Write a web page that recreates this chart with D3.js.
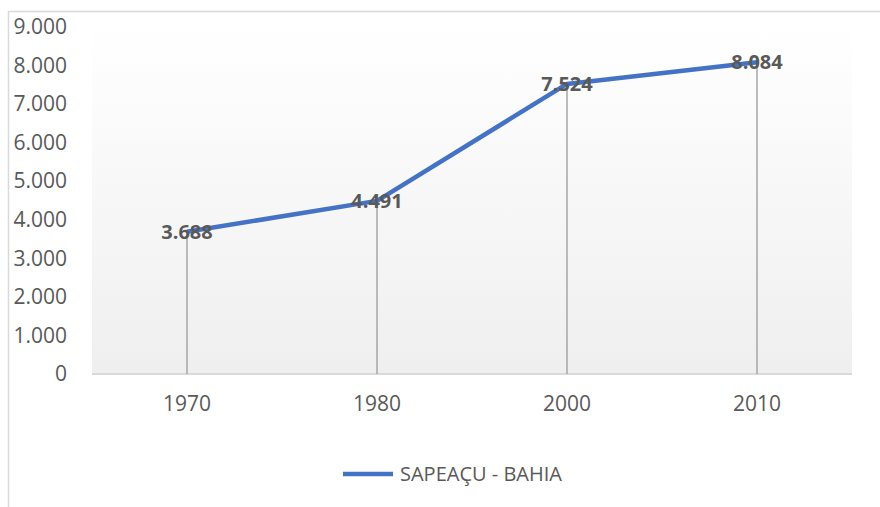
<!DOCTYPE html>
<html>
<head>
<meta charset="utf-8">
<script src="https://cdn.jsdelivr.net/npm/d3@7"></script>
<style>
  body { margin: 0; background: #fff; }
  text { font-family: "Open Sans", "Noto Sans", sans-serif; }
</style>
</head>
<body>
<svg width="880" height="507"></svg>
<script>
var years = ["1970", "1980", "2000", "2010"];
var population = [3688, 4491, 7524, 8084];
var yTicks = [0, 1000, 2000, 3000, 4000, 5000, 6000, 7000, 8000, 9000];
var seriesName = "SAPEAÇU - BAHIA";

var svg = d3.select("svg");
var margin = { top: 27, right: 28, bottom: 133, left: 92 };
var width = 880 - margin.left - margin.right;
var height = 507 - margin.top - margin.bottom;

var fmt = function(v) { return v === 0 ? "0" : d3.format(",")(v).replace(/,/g, "."); };

// outer chart frame (only top and left edges show in the crop)
svg.append("path")
  .attr("d", "M8.5,507 V11.5 H880")
  .attr("fill", "none")
  .attr("stroke", "#d9d9d9")
  .attr("stroke-width", 1.5);

var defs = svg.append("defs");
var grad = defs.append("linearGradient")
  .attr("id", "plotbg")
  .attr("x1", 0).attr("y1", 0).attr("x2", 0).attr("y2", 1);
grad.append("stop").attr("offset", "0%").attr("stop-color", "#ffffff");
grad.append("stop").attr("offset", "100%").attr("stop-color", "#efefef");

var g = svg.append("g")
  .attr("transform", "translate(" + margin.left + "," + margin.top + ")");

var x = d3.scaleBand().domain(years).range([0, width]);
var y = d3.scaleLinear().domain([0, 9000]).range([height, 0]);

g.append("rect")
  .attr("width", width)
  .attr("height", height)
  .attr("fill", "url(#plotbg)");

// y axis labels
var yAxis = d3.axisLeft(y).tickValues(yTicks).tickFormat(fmt).tickSize(0).tickPadding(25);
g.append("g")
    .attr("class", "y-axis")
    .call(yAxis)
  .call(function(s) { s.select(".domain").remove(); })
  .selectAll("text")
    .attr("fill", "#595959")
    .style("font-size", "21px");

// baseline
g.append("line")
  .attr("x1", 0).attr("x2", width)
  .attr("y1", y(0)).attr("y2", y(0))
  .attr("stroke", "#d9d9d9")
  .attr("stroke-width", 2);

// x axis labels
var xAxis = d3.axisBottom(x).tickSize(0).tickPadding(22);
g.append("g")
    .attr("class", "x-axis")
    .attr("transform", "translate(0," + height + ")")
    .call(xAxis)
  .call(function(s) { s.select(".domain").remove(); })
  .selectAll("text")
    .attr("fill", "#595959")
    .style("font-size", "21px");

var cx = function(d, i) { return x(years[i]) + x.bandwidth() / 2; };

// drop lines
g.selectAll(".drop")
  .data(population)
  .enter().append("line")
  .attr("class", "drop")
  .attr("x1", cx).attr("x2", cx)
  .attr("y1", function(d) { return y(d); })
  .attr("y2", y(0))
  .attr("stroke", "#a6a6a6")
  .attr("stroke-width", 1.5);

var line = d3.line()
  .x(cx)
  .y(function(d) { return y(d); });

g.append("path")
  .datum(population)
  .attr("fill", "none")
  .attr("stroke", "#4472c4")
  .attr("stroke-width", 4.5)
  .attr("stroke-linejoin", "round")
  .attr("d", line);

g.selectAll(".label")
  .data(population)
  .enter().append("text")
  .attr("class", "label")
  .attr("x", cx)
  .attr("y", function(d) { return y(d); })
  .attr("dy", "0.35em")
  .attr("text-anchor", "middle")
  .attr("fill", "#595959")
  .style("font-size", "20px")
  .style("font-weight", "bold")
  .text(fmt);

// legend
var legend = svg.append("g").attr("transform", "translate(343,474)");
legend.append("line")
  .attr("x1", 0).attr("x2", 50)
  .attr("stroke", "#4472c4")
  .attr("stroke-width", 4.5);
legend.append("text")
  .attr("x", 57)
  .attr("dy", "0.35em")
  .attr("fill", "#595959")
  .style("font-size", "20px")
  .text(seriesName);
</script>
</body>
</html>
